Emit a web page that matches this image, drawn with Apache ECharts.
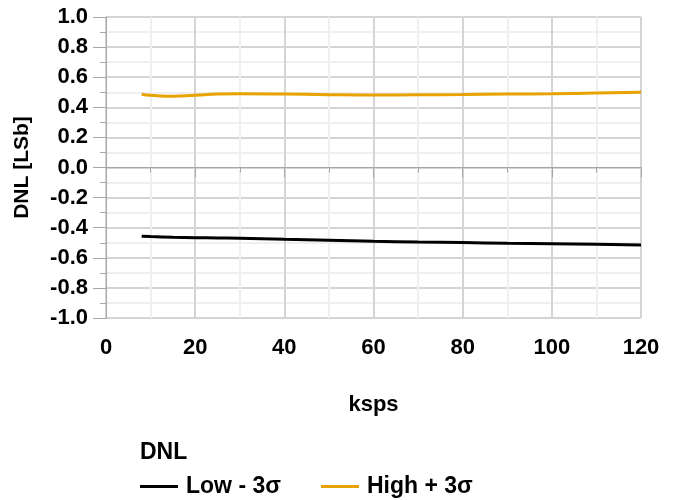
<!DOCTYPE html>
<html>
<head>
<meta charset="utf-8">
<script src="https://cdn.jsdelivr.net/npm/echarts@6/dist/echarts.min.js"></script>
<style>
  html, body { margin: 0; padding: 0; background: #fff; }
  #chart { width: 676px; height: 500px; }
</style>
</head>
<body>
<div id="chart"></div>
<script>
var ksps = [8, 10, 15, 20, 25, 30, 40, 50, 60, 70, 80, 90, 100, 110, 120];
var lowValues = [-0.457, -0.459, -0.463, -0.466, -0.468, -0.470, -0.477, -0.483, -0.490, -0.495, -0.499, -0.503, -0.506, -0.510, -0.515];
var highValues = [0.487, 0.480, 0.473, 0.480, 0.488, 0.490, 0.488, 0.484, 0.482, 0.483, 0.485, 0.488, 0.490, 0.495, 0.500];
var seriesNames = ['Low - 3σ', 'High + 3σ'];
var seriesColors = ['#000000', '#e8a202'];

function pairs(xs, ys) {
    var out = [];
    for (var i = 0; i < xs.length; i++) out.push([xs[i], ys[i]]);
    return out;
}

var fontFamily = 'Liberation Sans, Arial, sans-serif';
var chart = echarts.init(document.getElementById('chart'));

var option = {
    animation: false,
    title: {
        text: 'DNL',
        left: 140,
        top: 441,
        padding: 0,
        textStyle: { fontFamily: fontFamily, fontWeight: 'bold', fontSize: 23, color: '#000' }
    },
    legend: {
        left: 140,
        top: 475,
        padding: 0,
        icon: 'rect',
        itemWidth: 38,
        itemHeight: 3,
        itemGap: 40,
        textStyle: { fontFamily: fontFamily, fontWeight: 'bold', fontSize: 23, color: '#000', padding: [0, 0, 0, 3] },
        data: seriesNames
    },
    grid: { left: 106, right: 35, top: 17, bottom: 182 },
    xAxis: {
        type: 'value',
        min: 0,
        max: 120,
        interval: 20,
        name: 'ksps',
        nameLocation: 'middle',
        nameGap: 76,
        nameMoveOverlap: false,
        nameTextStyle: { fontFamily: fontFamily, fontWeight: 'bold', fontSize: 22, color: '#000' },
        axisLine: { show: true, lineStyle: { color: '#a6a6a6', width: 1 } },
        axisTick: { show: true, length: 10, lineStyle: { color: '#a6a6a6' } },
        minorTick: { show: true, splitNumber: 2, length: 5, lineStyle: { color: '#a6a6a6' } },
        axisLabel: { margin: 19, fontFamily: fontFamily, fontWeight: 'bold', fontSize: 22, color: '#000' },
        splitLine: { show: true, lineStyle: { color: '#d4d4d4', width: 2 } },
        minorSplitLine: { show: true, lineStyle: { color: '#efefef', width: 2 } }
    },
    yAxis: {
        type: 'value',
        min: -1,
        max: 1,
        interval: 0.2,
        name: 'DNL [LSb]',
        nameLocation: 'middle',
        nameGap: 73,
        nameMoveOverlap: false,
        nameTextStyle: { fontFamily: fontFamily, fontWeight: 'bold', fontSize: 21, color: '#000' },
        axisLine: { show: true, lineStyle: { color: '#a6a6a6', width: 1 } },
        axisTick: { show: true, length: 13, lineStyle: { color: '#a6a6a6' } },
        minorTick: { show: true, splitNumber: 2, length: 6, lineStyle: { color: '#a6a6a6' } },
        axisLabel: {
            margin: 18,
            fontFamily: fontFamily, fontWeight: 'bold', fontSize: 22, color: '#000',
            formatter: function (v) { return v.toFixed(1); }
        },
        splitLine: { show: true, lineStyle: { color: '#d4d4d4', width: 2 } },
        minorSplitLine: { show: true, lineStyle: { color: '#efefef', width: 2 } }
    },
    series: [
        {
            name: seriesNames[0],
            type: 'line',
            smooth: true,
            showSymbol: false,
            color: seriesColors[0],
            lineStyle: { width: 3, color: seriesColors[0] },
            data: pairs(ksps, lowValues)
        },
        {
            name: seriesNames[1],
            type: 'line',
            smooth: true,
            showSymbol: false,
            color: seriesColors[1],
            lineStyle: { width: 3, color: seriesColors[1] },
            data: pairs(ksps, highValues)
        }
    ]
};

chart.setOption(option);
</script>
</body>
</html>
